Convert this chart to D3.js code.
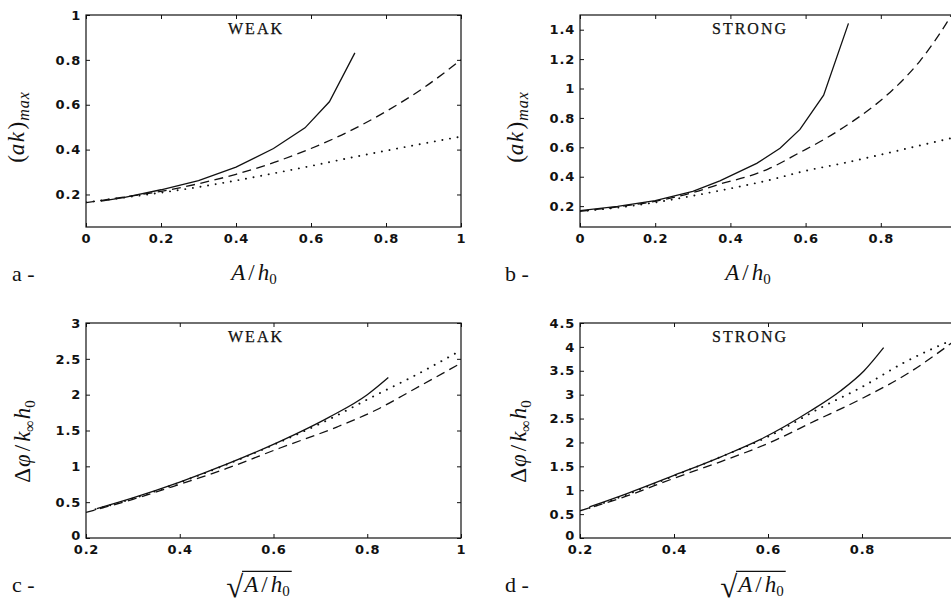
<!DOCTYPE html>
<html><head><meta charset="utf-8">
<script src="https://cdn.jsdelivr.net/npm/d3@7"></script>
<style>
body{margin:0;background:#fff;}
svg{display:block;}
.serif{font-family:"Liberation Serif","Times New Roman",serif;fill:#111;}
</style></head><body>
<svg id="fig" width="951" height="606"></svg>
<script>
// ---- tick values ----
const xTicksA = [0, 0.2, 0.4, 0.6, 0.8, 1];
const xTicksB = [0, 0.2, 0.4, 0.6, 0.8];
const xTicksC = [0.2, 0.4, 0.6, 0.8, 1];
const xTicksD = [0.2, 0.4, 0.6, 0.8];
const yTicksA = [0.2, 0.4, 0.6, 0.8, 1];
const yTicksB = [0.2, 0.4, 0.6, 0.8, 1, 1.2, 1.4];
const yTicksC = [0, 0.5, 1, 1.5, 2, 2.5, 3];
const yTicksD = [0, 0.5, 1, 1.5, 2, 2.5, 3, 3.5, 4, 4.5];

// ---- panel a: WEAK, (ak)max vs A/h0 ----
const aSolidX = [0.04, 0.1, 0.2, 0.3, 0.4, 0.5, 0.584, 0.649, 0.717];
const aSolidY = [0.170, 0.186, 0.221, 0.262, 0.322, 0.405, 0.497, 0.613, 0.831];
const aDashX = [0, 0.1, 0.2, 0.3, 0.4, 0.5, 0.6, 0.7, 0.8, 0.9, 1.0];
const aDashY = [0.164, 0.188, 0.214, 0.248, 0.29, 0.342, 0.405, 0.48, 0.57, 0.675, 0.80];
const aDotX = [0, 0.1, 0.2, 0.3, 0.4, 0.5, 0.6, 0.7, 0.8, 0.9, 1.0];
const aDotY = [0.165, 0.186, 0.208, 0.233, 0.262, 0.294, 0.327, 0.362, 0.395, 0.427, 0.458];

// ---- panel b: STRONG, (ak)max vs A/h0 ----
const bSolidX = [0, 0.1, 0.2, 0.3, 0.372, 0.47, 0.532, 0.585, 0.648, 0.714];
const bSolidY = [0.17, 0.198, 0.238, 0.3, 0.372, 0.491, 0.593, 0.722, 0.955, 1.443];
const bDashX = [0, 0.1, 0.2, 0.3, 0.372, 0.45, 0.5, 0.585, 0.65, 0.727, 0.781, 0.825, 0.869, 0.905, 0.94, 0.976, 0.99];
const bDashY = [0.165, 0.195, 0.233, 0.292, 0.35, 0.405, 0.452, 0.565, 0.655, 0.78, 0.88, 0.975, 1.085, 1.19, 1.31, 1.45, 1.51];
const bDotX = [0, 0.1, 0.2, 0.3, 0.4, 0.5, 0.6, 0.7, 0.8, 0.9, 1.0];
const bDotY = [0.165, 0.19, 0.225, 0.27, 0.32, 0.375, 0.44, 0.492, 0.55, 0.61, 0.67];

// ---- panel c: WEAK, phase shift vs sqrt(A/h0) ----
const cSolidX = [0.223, 0.3, 0.4, 0.5, 0.614, 0.72, 0.8, 0.845];
const cSolidY = [0.41, 0.56, 0.78, 1.03, 1.348, 1.69, 2.0, 2.24];
const cDashX = [0.2, 0.3, 0.4, 0.5, 0.614, 0.735, 0.82, 0.898, 1.0];
const cDashY = [0.358, 0.54, 0.75, 0.97, 1.256, 1.548, 1.79, 2.069, 2.44];
const cDotX = [0.22, 0.3, 0.4, 0.5, 0.6, 0.72, 0.813, 0.898, 1.0];
const cDotY = [0.4, 0.55, 0.775, 1.025, 1.3, 1.66, 1.976, 2.255, 2.62];

// ---- panel d: STRONG, phase shift vs sqrt(A/h0) ----
const dSolidX = [0.22, 0.3, 0.4, 0.5, 0.584, 0.69, 0.754, 0.804, 0.846];
const dSolidY = [0.65, 0.93, 1.31, 1.7, 2.064, 2.658, 3.077, 3.495, 3.983];
const dDashX = [0.2, 0.3, 0.4, 0.5, 0.6, 0.7, 0.8, 0.9, 1.0];
const dDashY = [0.57, 0.88, 1.25, 1.6, 1.98, 2.45, 2.92, 3.46, 4.15];
const dDotX = [0.22, 0.3, 0.4, 0.5, 0.6, 0.711, 0.797, 0.889, 1.0];
const dDotY = [0.63, 0.91, 1.3, 1.7, 2.12, 2.72, 3.146, 3.669, 4.18];

const zip = (xs, ys) => xs.map((v, i) => [v, ys[i]]);
const svg = d3.select("#fig");
const ink = "#111";
const fmt = d => String(+d.toFixed(1));

const styles = {
  solid: {dash: null, width: 1.3, cap: "butt"},
  dash: {dash: "9,5.5", width: 1.3, cap: "butt"},
  dot: {dash: "0.1,7.6", width: 1.9, cap: "round"}
};

function styleTicks(sel) {
  sel.selectAll(".tick text")
    .attr("font-family", "'DejaVu Sans', sans-serif")
    .attr("font-weight", "bold")
    .attr("font-size", 13)
    .attr("letter-spacing", 0.8)
    .attr("fill", ink);
  sel.selectAll(".tick line").attr("stroke", ink).attr("stroke-width", 1);
}

function drawPanel(p) {
  const x = d3.scaleLinear().domain(p.xDomain).range([p.left, p.left + p.width]);
  const y = d3.scaleLinear().domain(p.yDomain).range([p.top + p.height, p.top]);
  const g = svg.append("g");
  const bottom = p.top + p.height, right = p.left + p.width;

  const clipId = "clip-" + p.id;
  svg.append("clipPath").attr("id", clipId).append("rect")
    .attr("x", p.left).attr("y", p.top).attr("width", p.width).attr("height", p.height);

  // axes with inward ticks, mirrored on top and right
  g.append("g").attr("transform", `translate(0,${bottom})`)
    .call(d3.axisBottom(x).tickValues(p.xTicks).tickFormat(fmt).tickSizeInner(-4).tickSizeOuter(0).tickPadding(p.xPad))
    .call(styleTicks);
  g.append("g").attr("transform", `translate(0,${p.top})`)
    .call(d3.axisTop(x).tickValues(p.xTicks).tickFormat("").tickSizeInner(-4).tickSizeOuter(0))
    .call(styleTicks);
  const yAxis = g.append("g").attr("transform", `translate(${p.left},0)`)
    .call(d3.axisLeft(y).tickValues(p.yTicks).tickFormat(fmt).tickSizeInner(-4).tickSizeOuter(0).tickPadding(5))
    .call(styleTicks);
  // lift the zero label a little so it clears the first x label
  yAxis.selectAll(".tick").filter(d => d === 0).select("text").attr("y", -3);
  g.append("g").attr("transform", `translate(${right},0)`)
    .call(d3.axisRight(y).tickValues(p.yTicks).tickFormat("").tickSizeInner(-4).tickSizeOuter(0))
    .call(styleTicks);
  g.selectAll(".domain").remove();

  g.append("rect").attr("x", p.left).attr("y", p.top).attr("width", p.width).attr("height", p.height)
    .attr("fill", "none").attr("stroke", ink).attr("stroke-width", 1.2);

  const line = d3.line().x(d => x(d[0])).y(d => y(d[1]));
  const plot = g.append("g").attr("clip-path", `url(#${clipId})`);
  p.series.forEach(s => {
    const st = styles[s.style];
    plot.append("path").datum(s.data)
      .attr("d", line.curve(s.smooth ? d3.curveMonotoneX : d3.curveLinear))
      .attr("fill", "none").attr("stroke", ink)
      .attr("stroke-width", st.width).attr("stroke-linecap", st.cap)
      .attr("stroke-dasharray", st.dash);
  });

  // regime title
  g.append("text").attr("class", "serif")
    .attr("x", p.left + 170).attr("y", p.top + 18.5)
    .attr("text-anchor", "middle").attr("font-size", 16).attr("letter-spacing", 2)
    .attr("stroke", ink).attr("stroke-width", 0.25)
    .text(p.title);

  // panel letter
  g.append("text").attr("class", "serif")
    .attr("x", p.letterX).attr("y", p.letterY)
    .attr("font-size", 22).text(p.letter + " -");

  p.yLabel(g, p);
  p.xLabel(g, p);
}

// y label: (ak)_max
function yLabelAk(g, p) {
  const t = g.append("text").attr("class", "serif")
    .attr("transform", `translate(${p.yLabX},${p.top + p.height / 2 + 6}) rotate(-90)`)
    .attr("text-anchor", "middle").attr("font-size", 23);
  t.append("tspan").text("(");
  t.append("tspan").attr("font-style", "italic").attr("letter-spacing", 1.5).text("ak");
  t.append("tspan").attr("dx", 1).text(")");
  t.append("tspan").attr("font-style", "italic").attr("font-size", 16).attr("letter-spacing", 1)
    .attr("dy", 5).attr("dx", 1).text("max");
}

// y label: Δφ/k∞h0
function yLabelPhi(g, p) {
  const t = g.append("text").attr("class", "serif")
    .attr("transform", `translate(${p.yLabX},${p.top + p.height / 2 + 11}) rotate(-90)`)
    .attr("text-anchor", "middle").attr("font-size", 23);
  t.append("tspan").text("Δ");
  t.append("tspan").attr("font-style", "italic").attr("dx", 1).text("φ");
  t.append("tspan").attr("dx", 3).text("/");
  t.append("tspan").attr("font-style", "italic").attr("dx", 3).text("k");
  t.append("tspan").attr("font-size", 16).attr("dy", 5).text("∞");
  t.append("tspan").attr("font-style", "italic").attr("dy", -5).attr("dx", 1).text("h");
  t.append("tspan").attr("font-size", 15).attr("dy", 5).text("0");
}

// x label: A/h0
function xLabelA(g, p) {
  const t = g.append("text").attr("class", "serif")
    .attr("x", p.left + 168).attr("y", 280)
    .attr("text-anchor", "middle").attr("font-size", 23);
  t.append("tspan").attr("font-style", "italic").text("A");
  t.append("tspan").attr("dx", 3).text("/");
  t.append("tspan").attr("font-style", "italic").attr("dx", 3).text("h");
  t.append("tspan").attr("font-size", 15).attr("dy", 4).text("0");
}

// x label: square root of A/h0, radical sign followed by its radicand
function xLabelSqrt(g, p) {
  const base = 592;
  const t = g.append("text").attr("class", "serif")
    .attr("x", p.left + 172).attr("y", base)
    .attr("text-anchor", "middle").attr("font-size", 23);
  t.append("tspan").attr("font-size", 31).attr("dy", 5).text("√");
  t.append("tspan").attr("font-style", "italic").attr("dy", -5).attr("dx", 1).text("A");
  t.append("tspan").attr("dx", 3).text("/");
  t.append("tspan").attr("font-style", "italic").attr("dx", 3).text("h");
  t.append("tspan").attr("font-size", 15).attr("dy", 4).text("0");
  const node = t.node();
  const rad = node.getExtentOfChar(0);
  const bb = node.getBBox();
  const yTop = rad.y + 2.4;
  g.append("line")
    .attr("x1", rad.x + rad.width - 1.2).attr("x2", bb.x + bb.width + 2)
    .attr("y1", yTop).attr("y2", yTop)
    .attr("stroke", ink).attr("stroke-width", 1.3);
}

const panels = [
  {id: "a", left: 86, top: 15, width: 375, height: 212, xDomain: [0, 1], yDomain: [0.055, 1],
   xTicks: xTicksA, yTicks: yTicksA, xPad: 7, title: "WEAK", letter: "a", letterX: 12, letterY: 281, yLabX: 24,
   yLabel: yLabelAk, xLabel: xLabelA,
   series: [{data: zip(aDotX, aDotY), style: "dot", smooth: true},
            {data: zip(aDashX, aDashY), style: "dash", smooth: true},
            {data: zip(aSolidX, aSolidY), style: "solid", smooth: false}]},
  {id: "b", left: 580, top: 15, width: 376, height: 212, xDomain: [0, 1], yDomain: [0.058, 1.5],
   xTicks: xTicksB, yTicks: yTicksB, xPad: 7, title: "STRONG", letter: "b", letterX: 505, letterY: 281, yLabX: 523,
   yLabel: yLabelAk, xLabel: xLabelA,
   series: [{data: zip(bDotX, bDotY), style: "dot", smooth: true},
            {data: zip(bDashX, bDashY), style: "dash", smooth: true},
            {data: zip(bSolidX, bSolidY), style: "solid", smooth: false}]},
  {id: "c", left: 86, top: 323, width: 375, height: 215, xDomain: [0.2, 1], yDomain: [0, 3],
   xTicks: xTicksC, yTicks: yTicksC, xPad: 7, title: "WEAK", letter: "c", letterX: 12, letterY: 592, yLabX: 30,
   yLabel: yLabelPhi, xLabel: xLabelSqrt,
   series: [{data: zip(cDotX, cDotY), style: "dot", smooth: true},
            {data: zip(cDashX, cDashY), style: "dash", smooth: true},
            {data: zip(cSolidX, cSolidY), style: "solid", smooth: true}]},
  {id: "d", left: 580, top: 323, width: 376, height: 215, xDomain: [0.2, 1], yDomain: [0, 4.5],
   xTicks: xTicksD, yTicks: yTicksD, xPad: 7, title: "STRONG", letter: "d", letterX: 505, letterY: 592, yLabX: 526,
   yLabel: yLabelPhi, xLabel: xLabelSqrt,
   series: [{data: zip(dDotX, dDotY), style: "dot", smooth: true},
            {data: zip(dDashX, dDashY), style: "dash", smooth: true},
            {data: zip(dSolidX, dSolidY), style: "solid", smooth: true}]}
];

panels.forEach(drawPanel);
</script>
</body></html>
